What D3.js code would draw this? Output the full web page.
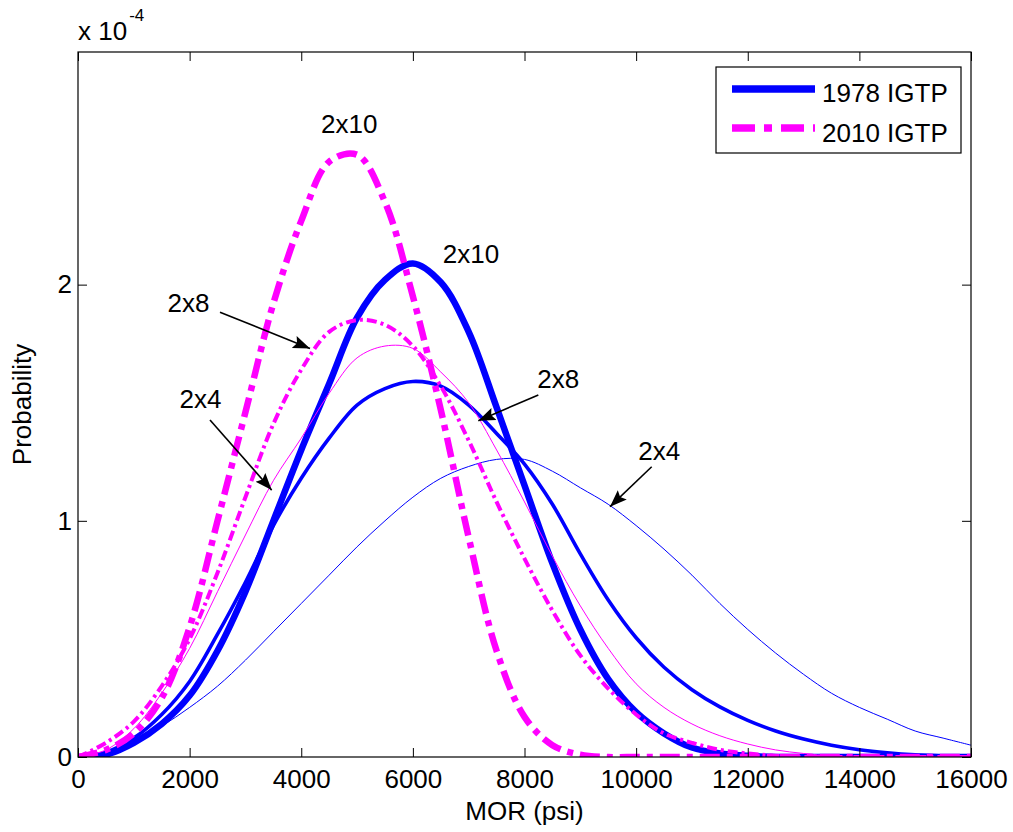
<!DOCTYPE html>
<html>
<head>
<meta charset="utf-8">
<title>MOR probability</title>
<script src="https://cdn.jsdelivr.net/npm/d3@7"></script>
<style>
  body { margin: 0; background: #fff; }
  svg text { font-family: "Liberation Sans", Arial, sans-serif; fill: #000; }
</style>
</head>
<body>
<div id="chart"></div>
<script>
/* MOR probability curves, 1978 IGTP vs 2010 IGTP */

// MOR (psi) where the curves were read
const mor = [0, 500, 1000, 1500, 2000, 2500, 3000, 3500, 4000, 4500, 5000, 5500, 6000, 6500, 7000, 7500,
  8000, 8500, 9000, 9500, 10000, 10500, 11000, 11500, 12000, 12500, 13000, 13500, 14000, 14500, 15000, 15500, 16000];

// probability values, in units of 10^-4
const igtp1978_2x4 = [0, 0.02, 0.06, 0.13, 0.21, 0.30, 0.41, 0.53, 0.65, 0.77, 0.89, 1.00, 1.10, 1.18, 1.23, 1.26,
  1.26, 1.21, 1.14, 1.07, 0.98, 0.88, 0.77, 0.65, 0.54, 0.44, 0.35, 0.27, 0.21, 0.16, 0.11, 0.08, 0.05];
const igtp1978_2x8 = [0, 0.02, 0.08, 0.18, 0.32, 0.52, 0.74, 0.98, 1.18, 1.35, 1.49, 1.56, 1.59, 1.57, 1.49, 1.37,
  1.24, 1.07, 0.86, 0.665, 0.505, 0.38, 0.285, 0.212, 0.155, 0.11, 0.076, 0.05, 0.031, 0.018, 0.009, 0.004, 0.001];
const igtp1978_2x10 = [0, 0.01, 0.06, 0.14, 0.26, 0.45, 0.70, 1.00, 1.30, 1.58, 1.86, 2.02, 2.09, 2.01, 1.80, 1.48,
  1.15, 0.82, 0.54, 0.33, 0.19, 0.10, 0.04, 0.015, 0.005, 0, 0, 0, 0, 0, 0, 0, 0];
const igtp2010_2x4 = [0, 0.03, 0.12, 0.27, 0.46, 0.70, 0.94, 1.17, 1.35, 1.54, 1.69, 1.74, 1.73, 1.63, 1.50, 1.30,
  1.08, 0.85, 0.64, 0.46, 0.31, 0.21, 0.14, 0.09, 0.055, 0.03, 0.015, 0.005, 0, 0, 0, 0, 0];
const igtp2010_2x8 = [0, 0.06, 0.15, 0.30, 0.50, 0.78, 1.10, 1.41, 1.64, 1.80, 1.85, 1.83, 1.74, 1.57, 1.34, 1.08,
  0.84, 0.62, 0.43, 0.29, 0.18, 0.10, 0.06, 0.03, 0.015, 0.005, 0, 0, 0, 0, 0, 0, 0];
const igtp2010_2x10 = [0, 0.03, 0.10, 0.25, 0.55, 1.00, 1.46, 1.92, 2.27, 2.52, 2.55, 2.35, 1.95, 1.47, 0.93, 0.45,
  0.17, 0.05, 0.01, 0, 0, 0, 0, 0, 0, 0, 0, 0, 0, 0, 0, 0, 0];

// ticks
const xTicks = [0, 2000, 4000, 6000, 8000, 10000, 12000, 14000, 16000];
const yTicks = [0, 1, 2];
const yExponent = "-4";

// legend
const legendLabels = ["1978 IGTP", "2010 IGTP"];

// size annotations (data coordinates)
const annoText = ["2x10", "2x10", "2x8", "2x4", "2x8", "2x4"];
const annoX = [4860, 7040, 1980, 2195, 8605, 10415];
const annoY = [2.64, 2.09, 1.885, 1.478, 1.562, 1.257];
const arrowFromX = [2544, 2365, 8248, 10279];
const arrowFromY = [1.883, 1.427, 1.533, 1.229];
const arrowToX = [4157, 3470, 7173, 9532];
const arrowToY = [1.730, 1.130, 1.424, 1.060];

const blue = "#0000ff", magenta = "#ff00ff";

// drawn in this order, 2010 lines end on top
const series = [
  {values: igtp1978_2x4, color: blue, width: 1, dash: null},
  {values: igtp1978_2x8, color: blue, width: 3.6, dash: null},
  {values: igtp1978_2x10, color: blue, width: 6.5, dash: null},
  {values: igtp2010_2x4, color: magenta, width: 1, dash: null},
  {values: igtp2010_2x8, color: magenta, width: 4, dash: "10,4,3,4"},
  {values: igtp2010_2x10, color: magenta, width: 6.5, dash: "20,7,6,7"}
];

const margin = {top: 52, right: 42, bottom: 75, left: 78},
  width = 1013 - margin.left - margin.right,
  height = 832 - margin.top - margin.bottom,
  fontSize = 26;

const root = d3.select("#chart")
  .append("svg")
  .attr("width", width + margin.left + margin.right)
  .attr("height", height + margin.top + margin.bottom);

const svg = root.append("g")
  .attr("transform", "translate(" + margin.left + "," + margin.top + ")");

const x = d3.scaleLinear().domain([0, 16000]).range([0, width]);
const y = d3.scaleLinear().domain([0, 2.985]).range([height, 0]);

// clip for the curves
svg.append("clipPath").attr("id", "plot-clip")
  .append("rect").attr("width", width).attr("height", height);

// curves
const line = d3.line()
  .x(function(d, i) { return x(mor[i]); })
  .y(function(d) { return y(d); })
  .curve(d3.curveCatmullRom.alpha(0.5));

svg.append("g").attr("clip-path", "url(#plot-clip)")
  .selectAll("path")
  .data(series)
  .join("path")
  .attr("fill", "none")
  .attr("stroke", function(d) { return d.color; })
  .attr("stroke-width", function(d) { return d.width; })
  .attr("stroke-dasharray", function(d) { return d.dash; })
  .attr("stroke-linejoin", "round")
  .attr("d", function(d) { return line(d.values); });

// axes, ticks point inward like matlab
function styleAxis(g) {
  g.select(".domain").remove();
  g.attr("font-size", fontSize).attr("font-family", "'Liberation Sans', Arial, sans-serif");
  g.selectAll(".tick line").attr("stroke", "#000").attr("stroke-width", 1);
}

svg.append("g")
  .attr("transform", "translate(0," + height + ")")
  .call(d3.axisBottom(x).tickValues(xTicks).tickFormat(d3.format("d"))
    .tickSizeInner(-9).tickSizeOuter(0).tickPadding(13))
  .call(styleAxis);

svg.append("g")
  .call(d3.axisLeft(y).tickValues(yTicks).tickFormat(d3.format("d"))
    .tickSizeInner(-9).tickSizeOuter(0).tickPadding(6))
  .call(styleAxis);

svg.append("g")
  .call(d3.axisTop(x).tickValues(xTicks).tickFormat(function() { return ""; })
    .tickSizeInner(-9).tickSizeOuter(0))
  .call(styleAxis);

svg.append("g")
  .attr("transform", "translate(" + width + ",0)")
  .call(d3.axisRight(y).tickValues(yTicks).tickFormat(function() { return ""; })
    .tickSizeInner(-9).tickSizeOuter(0))
  .call(styleAxis);

// axes box
svg.append("rect")
  .attr("width", width).attr("height", height)
  .attr("fill", "none").attr("stroke", "#000").attr("stroke-width", 1.2);

// exponent label
const expo = root.append("text")
  .attr("x", margin.left).attr("y", 40)
  .attr("font-size", fontSize)
  .text("x 10");
expo.append("tspan")
  .attr("font-size", 17).attr("dy", -19).attr("dx", 2)
  .text(yExponent);

// axis titles
root.append("text")
  .attr("x", margin.left + width / 2).attr("y", 820)
  .attr("text-anchor", "middle")
  .attr("font-size", fontSize)
  .text("MOR (psi)");

root.append("text")
  .attr("transform", "translate(31," + (margin.top + height / 2) + ") rotate(-90)")
  .attr("text-anchor", "middle")
  .attr("font-size", fontSize)
  .text("Probability");

// arrows and size labels
root.append("defs").append("marker")
  .attr("id", "head")
  .attr("markerUnits", "userSpaceOnUse")
  .attr("markerWidth", 20).attr("markerHeight", 16)
  .attr("viewBox", "0 -8 20 16")
  .attr("refX", 17).attr("refY", 0)
  .attr("orient", "auto")
  .append("path")
  .attr("d", "M0,-6.5L17,0L0,6.5L3,0Z")
  .attr("fill", "#000");

svg.selectAll("line.arrow")
  .data(arrowFromX)
  .join("line")
  .attr("class", "arrow")
  .attr("x1", function(d) { return x(d); })
  .attr("y1", function(d, i) { return y(arrowFromY[i]); })
  .attr("x2", function(d, i) { return x(arrowToX[i]); })
  .attr("y2", function(d, i) { return y(arrowToY[i]); })
  .attr("stroke", "#000")
  .attr("stroke-width", 1.6)
  .attr("marker-end", "url(#head)");

svg.selectAll("text.anno")
  .data(annoText)
  .join("text")
  .attr("class", "anno")
  .attr("x", function(d, i) { return x(annoX[i]); })
  .attr("y", function(d, i) { return y(annoY[i]); })
  .attr("text-anchor", "middle")
  .attr("font-size", fontSize)
  .text(function(d) { return d; });

// legend
const legend = root.append("g").attr("transform", "translate(716,67)");
legend.append("rect")
  .attr("width", 245).attr("height", 86)
  .attr("fill", "#fff").attr("stroke", "#000").attr("stroke-width", 1.2);

const legendStyle = [series[2], series[5]];
legend.selectAll("line")
  .data(legendLabels)
  .join("line")
  .attr("x1", 16).attr("x2", 99)
  .attr("y1", function(d, i) { return 22 + i * 39; })
  .attr("y2", function(d, i) { return 22 + i * 39; })
  .attr("stroke", function(d, i) { return legendStyle[i].color; })
  .attr("stroke-width", 7.5)
  .attr("stroke-dasharray", function(d, i) { return i === 1 ? "23,9,8,9" : null; });

legend.selectAll("text")
  .data(legendLabels)
  .join("text")
  .attr("x", 106)
  .attr("y", function(d, i) { return 35 + i * 40; })
  .attr("font-size", fontSize)
  .text(function(d) { return d; });
</script>
</body>
</html>
